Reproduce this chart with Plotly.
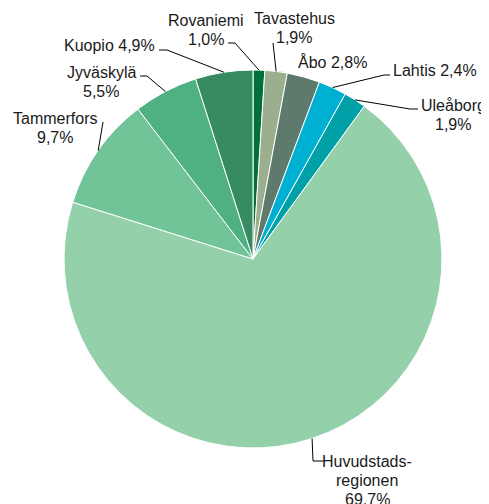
import math
import plotly.graph_objects as go

# ---- data ----
regions = ["Rovaniemi", "Tavastehus", "Åbo", "Lahtis", "Uleåborg",
           "Huvudstads-<br>regionen", "Tammerfors", "Jyväskylä", "Kuopio"]
shares = [1.0, 1.9, 2.8, 2.4, 1.9, 69.7, 9.7, 5.5, 4.9]
colors = ["#00703C", "#9BAF8E", "#5E7A6C", "#00B0D2", "#00A0A9",
          "#94D1AB", "#71C498", "#4FB083", "#368C60"]

# ---- layout constants (page pixels) ----
PAGE_W, PAGE_H = 489, 504
OFF = 8                      # default body margin of the html page
W, H = PAGE_W - OFF, PAGE_H - OFF
CX, CY, R = 253, 259, 189
FONT = dict(family="Liberation Sans, Arial, sans-serif", size=16, color="#1a1a1a")
LINE_H = 19
# per-slice label: (text lines, centre x, y of first line, leader points from text toward slice)
label_layout = [
    (["Rovaniemi", "{p}"], 206, 20, [(228, 43), (235, 43)]),
    (["Tavastehus", "{p}"], 294, 18, [(273, 43)]),
    (["Åbo {p}"], 332, 62, []),
    (["Lahtis {p}"], 435, 70, [(390, 75), (384, 75)]),
    (["Uleåborg", "{p}"], 453, 105, [(418, 109), (410, 109)]),
    (["Huvudstads-", "regionen", "{p}"], 367, 461, [(324, 461), (313, 461)]),
    (["Tammerfors", "{p}"], 55, 118, [(103, 122)]),
    (["Jyväskylä", "{p}"], 101, 72, [(140, 76), (147, 76)]),
    (["Kuopio {p}"], 109, 45, [(159, 50), (167, 50)]),
]

fig = go.Figure()
fx, fy = CX - OFF, CY - OFF
fig.add_trace(go.Pie(
    labels=regions, values=shares, sort=False, direction="clockwise", rotation=0,
    marker=dict(colors=colors, line=dict(color="white", width=1)),
    textinfo="none", hoverinfo="label+percent", showlegend=False,
    domain=dict(x=[(fx - R) / W, (fx + R) / W], y=[(H - fy - R) / H, (H - fy + R) / H]),
))

total = sum(shares)
cum = 0.0
annotations, shapes = [], []
for v, (lines, tx, ty, leader) in zip(shares, label_layout):
    mid = (cum + v / 2) / total * 2 * math.pi
    cum += v
    ex, ey = CX + R * math.sin(mid), CY - R * math.cos(mid)
    pct = f"{v:.1f}".replace(".", ",") + "%"
    for i, ln in enumerate(lines):
        annotations.append(dict(x=tx, y=ty + i * LINE_H, xref="x", yref="y",
                                text=ln.format(p=pct), showarrow=False,
                                xanchor="center", yanchor="middle", font=FONT))
    pts = leader + [(ex, ey)] if leader else []
    for (x0, y0), (x1, y1) in zip(pts[:-1], pts[1:]):
        shapes.append(dict(type="line", xref="x", yref="y", x0=x0, y0=y0, x1=x1, y1=y1,
                           line=dict(color="#000000", width=1)))

fig.update_layout(
    width=W, height=H, margin=dict(l=0, r=0, t=0, b=0),
    paper_bgcolor="white", plot_bgcolor="rgba(0,0,0,0)",
    xaxis=dict(range=[OFF, OFF + W], visible=False, fixedrange=True),
    yaxis=dict(range=[OFF + H, OFF], visible=False, fixedrange=True),
    annotations=annotations, shapes=shapes,
)
fig.write_html("out.html", config={"displayModeBar": False})
